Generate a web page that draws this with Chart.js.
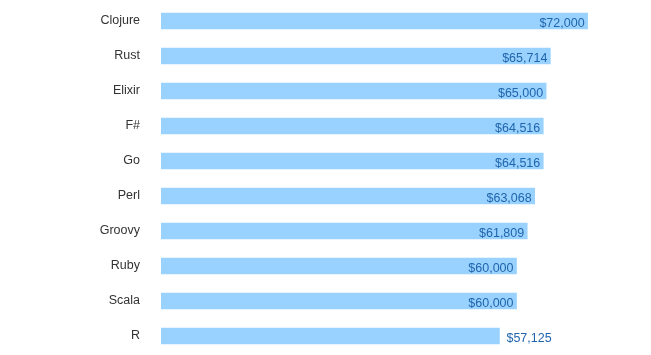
<!DOCTYPE html>
<html>
<head>
<meta charset="utf-8">
<script src="https://cdn.jsdelivr.net/npm/chart.js@4"></script>
<style>
html,body{margin:0;padding:0;background:#fff;overflow:hidden;}
canvas{display:block;}
</style>
</head>
<body>
<canvas id="c" width="651" height="355" style="width:651px;height:355px;"></canvas>
<script>
const categories = ["Clojure","Rust","Elixir","F#","Go","Perl","Groovy","Ruby","Scala","R"];
const salaries = [72000,65714,65000,64516,64516,63068,61809,60000,60000,57125];
const valueLabels = ["$72,000","$65,714","$65,000","$64,516","$64,516","$63,068","$61,809","$60,000","$60,000","$57,125"];

const FONT = "Liberation Sans, Arial, sans-serif";

const valuePlugin = {
  id: 'valueLabels',
  afterDatasetsDraw(chart) {
    const ctx = chart.ctx;
    const meta = chart.getDatasetMeta(0);
    ctx.save();
    ctx.font = "12.5px " + FONT;
    ctx.fillStyle = "#1f65ad";
    ctx.textBaseline = "alphabetic";
    meta.data.forEach((bar, i) => {
      const last = i === meta.data.length - 1;
      if (last) {
        ctx.textAlign = "left";
        ctx.fillText(valueLabels[i], bar.x + 7, bar.y + 5.5);
      } else {
        ctx.textAlign = "right";
        ctx.fillText(valueLabels[i], bar.x - 3, bar.y + 5.5);
      }
    });
    ctx.restore();
  }
};

new Chart(document.getElementById('c'), {
  type: 'bar',
  data: {
    labels: categories,
    datasets: [{
      data: salaries,
      backgroundColor: '#99d2fe',
      borderWidth: 0,
      barThickness: 16
    }]
  },
  options: {
    indexAxis: 'y',
    responsive: false,
    maintainAspectRatio: false,
    animation: false,
    devicePixelRatio: 1,
    layout: { padding: { top: 3.5, bottom: 1.5, right: 16, left: 0 } },
    plugins: { legend: { display: false }, tooltip: { enabled: false } },
    scales: {
      x: {
        display: false,
        min: 0,
        max: 80000
      },
      y: {
        grid: { display: false, drawTicks: false },
        border: { display: false },
        ticks: {
          color: '#333333',
          font: { family: FONT, size: 12.5 },
          padding: 21,
          labelOffset: 0
        },
        afterFit(scale) { scale.width = 161; scale.paddingTop = 0; scale.paddingBottom = 0; }
      }
    }
  },
  plugins: [valuePlugin]
});
</script>
</body>
</html>
